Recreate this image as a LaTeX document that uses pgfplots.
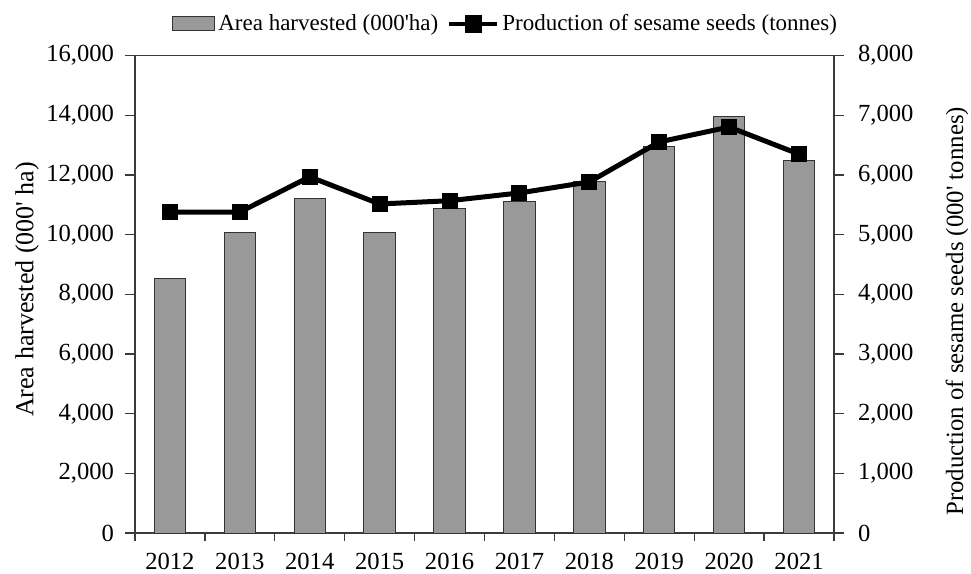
\documentclass[border=0pt]{standalone}
\usepackage{pgfplots}
\pgfplotsset{compat=1.18}
\usepackage{fontspec}
\setmainfont{Liberation Serif}
\definecolor{barfill}{HTML}{999999}
\definecolor{axisgray}{HTML}{3A3A3A}

\pgfplotstableread{
x area prod
0 8540 5380
1 10070 5380
2 11200 5970
3 10080 5515
4 10880 5570
5 11100 5700
6 11790 5885
7 12970 6555
8 13960 6805
9 12500 6350
}\datatable

\begin{document}
\begin{tikzpicture}
\pgfplotsset{
  every axis/.append style={
    scale only axis, width=349.5pt, height=238.7pt,
    xmin=-0.5, xmax=9.5,
    axis line style={axisgray, line width=0.7pt},
    tick style={axisgray, line width=0.7pt},
    tick align=outside,
    major tick length=5pt, minor tick length=4pt,
    ticklabel style={font=\fontsize{12.3}{14}\selectfont},
    /pgf/number format/assume math mode=true,
    /pgf/number format/1000 sep={,},
    scaled y ticks=false,
  },
}
\begin{axis}[
  name=ax,
  ymin=0, ymax=16000,
  ytick={0,2000,...,16000},
  ytick pos=left,
  xtick pos=bottom,
  xtick={0,...,9},
  xticklabels={2012,2013,2014,2015,2016,2017,2018,2019,2020,2021},
  major x tick style={draw=none},
  minor xtick={-0.5,0.5,...,9.5},
  xticklabel style={yshift=-1.5pt},
  yticklabel style={xshift=-2pt},
  every axis y label/.style={at={(axis description cs:-0.1545,0.5105)}, rotate=90, anchor=center},
  ylabel={\fontsize{13}{15}\selectfont Area harvested (000\textquotesingle\ ha)},
  ybar, bar width=0.45,
  legend columns=2,
  legend style={draw=none, fill=none, at={(0.531,1.0664)}, anchor=center,
    font=\fontsize{11.5}{13}\selectfont, inner sep=0pt,
    /tikz/every even column/.append style={column sep=3pt},
    nodes={inner xsep=1.5pt}},
]
\addplot[fill=barfill, draw=black!80, line width=0.5pt,
  legend image code/.code={\draw[fill=barfill, draw=black!80, line width=0.5pt] (0pt,-3.5pt) rectangle (21pt,3.5pt);}]
  table[x=x, y=area] {\datatable};
\addlegendentry{Area harvested (000\textquotesingle ha)}
\addlegendimage{black, line width=2pt,
  legend image code/.code={\draw[black, line width=2pt] (0pt,0pt) -- (24pt,0pt); \fill[black] (8.75pt,-3.4pt) rectangle (15.25pt,3.4pt);}}
\addlegendentry{Production of sesame seeds (tonnes)}
\end{axis}
\begin{axis}[
  ymin=0, ymax=8000,
  ytick={0,1000,...,8000},
  axis y line*=right,
  axis x line=none,
  yticklabel style={xshift=3.5pt},
  every axis y label/.style={at={(axis description cs:1.1760,0.4644)}, rotate=90, anchor=center},
  ylabel={\fontsize{12.4}{14}\selectfont Production of sesame seeds (000\textquotesingle\ tonnes)},
]
\addplot[black, line width=2.5pt, mark=square*, mark size=3.75pt, mark options={line width=0.5pt}] table[x=x, y=prod] {\datatable};
\end{axis}
\pgfresetboundingbox
\path ([shift={(-67.5pt,-20pt)}]ax.south west) rectangle ([shift={(68.5pt,27.85pt)}]ax.north east);
\end{tikzpicture}
\end{document}
